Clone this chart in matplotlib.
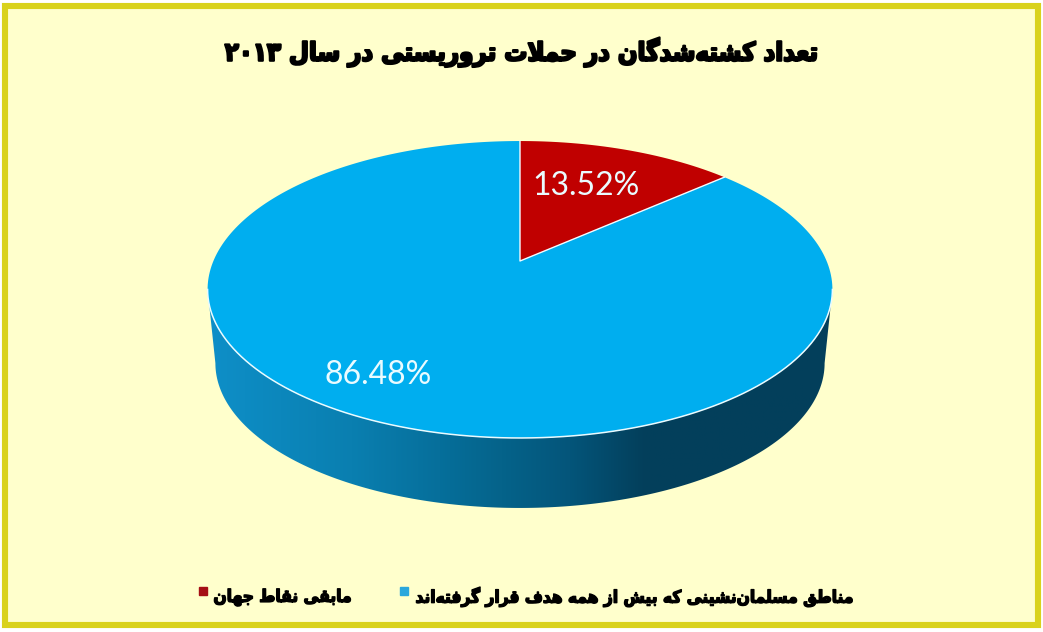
import numpy as np
import matplotlib
matplotlib.use("Agg")
import matplotlib.pyplot as plt
import matplotlib.patheffects as pe
from matplotlib.colors import LinearSegmentedColormap
from matplotlib.font_manager import FontProperties
from matplotlib.patches import PathPatch, Rectangle
from matplotlib.path import Path
from matplotlib.transforms import Transform

# ---- data -------------------------------------------------------------
title_text = "تعداد کشته\u200cشدگان در حملات تروریستی در سال ۲۰۱۳"
categories = ["مابقی نقاط جهان", "مناطق مسلمان\u200cنشینی که بیش از همه هدف قرار گرفته\u200cاند"]
shares = [13.52, 86.48]
colors = ["#C00000", "#00AEEF"]

# ---- Persian shaping (matplotlib does not shape or reorder) -----------
FORMS = {  # isolated, final, initial, medial
    "ا": (0xFE8D, 0xFE8E), "ب": (0xFE8F, 0xFE90, 0xFE91, 0xFE92), "ت": (0xFE95, 0xFE96, 0xFE97, 0xFE98),
    "ج": (0xFE9D, 0xFE9E, 0xFE9F, 0xFEA0), "ح": (0xFEA1, 0xFEA2, 0xFEA3, 0xFEA4), "د": (0xFEA9, 0xFEAA),
    "ر": (0xFEAD, 0xFEAE), "ز": (0xFEAF, 0xFEB0), "س": (0xFEB1, 0xFEB2, 0xFEB3, 0xFEB4),
    "ش": (0xFEB5, 0xFEB6, 0xFEB7, 0xFEB8), "ط": (0xFEC1, 0xFEC2, 0xFEC3, 0xFEC4),
    "ع": (0xFEC9, 0xFECA, 0xFECB, 0xFECC), "ف": (0xFED1, 0xFED2, 0xFED3, 0xFED4),
    "ق": (0xFED5, 0xFED6, 0xFED7, 0xFED8), "ک": (0xFB8E, 0xFB8F, 0xFB90, 0xFB91),
    "گ": (0xFB92, 0xFB93, 0xFB94, 0xFB95), "ل": (0xFEDD, 0xFEDE, 0xFEDF, 0xFEE0),
    "م": (0xFEE1, 0xFEE2, 0xFEE3, 0xFEE4), "ن": (0xFEE5, 0xFEE6, 0xFEE7, 0xFEE8),
    "ه": (0xFEE9, 0xFEEA, 0xFEEB, 0xFEEC), "و": (0xFEED, 0xFEEE), "ی": (0xFBFC, 0xFBFD, 0xFBFE, 0xFBFF),
}


def shape(text):
    out = []
    chars = list(text)
    i = 0
    while i < len(chars):
        c = chars[i]
        if c not in FORMS:
            if c != "\u200c":
                out.append(c)
            i += 1
            continue
        prev = chars[i - 1] if i else ""
        joins_prev = prev in FORMS and len(FORMS[prev]) == 4
        if c == "ل" and i + 1 < len(chars) and chars[i + 1] == "ا":
            out.append(chr(0xFEFC if joins_prev else 0xFEFB))
            i += 2
            continue
        nxt = chars[i + 1] if i + 1 < len(chars) else ""
        joins_next = len(FORMS[c]) == 4 and nxt in FORMS
        f = FORMS[c]
        if joins_prev and joins_next:
            out.append(chr(f[3]))
        elif joins_prev:
            out.append(chr(f[1]))
        elif joins_next:
            out.append(chr(f[2]))
        else:
            out.append(chr(f[0]))
        i += 1
    words = "".join(out).split(" ")
    return " ".join(w if w.isdigit() else w[::-1] for w in words[::-1])


# ---- perspective of the pie's top face ---------------------------------
APEX_X, APEX_Y = 520.0, 261.0
PERSP = 0.192


class Tilt(Transform):
    input_dims = output_dims = 2
    has_inverse = False
    is_separable = False

    def __init__(self, bx, ay, y0):
        super().__init__()
        self.bx, self.ay, self.y0 = bx, ay, y0

    def transform_non_affine(self, values):
        values = np.asarray(values, float)
        d = 1 + PERSP * values[:, 1]
        return np.column_stack((APEX_X + self.bx * values[:, 0] / d,
                                self.y0 - self.ay * values[:, 1] / d))

    def transform_path_non_affine(self, path):
        poly = Path(path.vertices * 2000, path.codes).to_polygons(closed_only=True)[0] / 2000
        return Path(self.transform_non_affine(poly), closed=True)


top = Tilt(306.6, 143.0, APEX_Y)
bottom = Tilt(306.6 * 0.975, 143.0 * 0.975, 335.4)

# ---- figure -------------------------------------------------------------
fig = plt.figure(figsize=(10.43, 6.32), dpi=100, facecolor="white")
ax = fig.add_axes([0, 0, 1, 1])
wedges, _ = ax.pie(shares, startangle=90, counterclock=False, colors=colors,
                   wedgeprops=dict(edgecolor="none", zorder=5))
ax.set_aspect("auto")
ax.set_xlim(0, 1043)
ax.set_ylim(632, 0)
ax.axis("off")
ax.add_patch(Rectangle((5, 5.5), 1033, 619.5, facecolor="#FFFFCC", edgecolor="#D9D21C",
                       linewidth=4.4, zorder=0))
for w in wedges:
    w.set_transform(top + ax.transData)

# side wall with a horizontal shade
t_front = np.linspace(np.pi + np.arcsin(PERSP), 2 * np.pi - np.arcsin(PERSP), 300)
ring = np.column_stack((np.cos(t_front), np.sin(t_front)))
upper = top.transform_non_affine(ring)
lower = bottom.transform_non_affine(ring)[::-1]
side = Path(np.vstack((upper, lower, upper[:1])), closed=True)
shade = LinearSegmentedColormap.from_list("side", [
    (0.00, "#0E8FC8"), (0.23, "#0A7FB0"), (0.37, "#066F9B"), (0.47, "#05638A"),
    (0.58, "#04557A"), (0.70, "#033F5B"), (1.00, "#03405C")])
img = ax.imshow(np.linspace(0, 1, 256)[None, :], cmap=shade, aspect="auto",
                extent=(208, 833, 510, 280), zorder=2)
ax.set_xlim(0, 1043)
ax.set_ylim(632, 0)
clip = PathPatch(side, transform=ax.transData, facecolor="none", edgecolor="none", zorder=2)
ax.add_patch(clip)
img.set_clip_path(clip)
# thin light rim where the top face meets the side wall
ax.plot(upper[:, 0], upper[:, 1], color="#EAFBFF", linewidth=1.1, zorder=5.5)

# thin light lines along the slice borders
boundary_angle = 2 * np.pi * shares[0] / sum(shares)
spokes = top.transform_non_affine(np.array([[0.0, 1.0], [0.0, 0.0],
                                            [np.sin(boundary_angle), np.cos(boundary_angle)]]))
ax.plot(spokes[:, 0], spokes[:, 1], color="#F4FBFF", linewidth=1.0, zorder=5.5)

# value labels
for (x, y), v in zip([(586, 186), (378, 375)], shares):
    ax.text(x, y, f"{v:.2f}%", color="#EAFBFF", fontsize=23, family="Lato",
            ha="center", va="center", zorder=6)

# Persian text font: condensed DejaVu bold
condensed = FontProperties(family="DejaVu Sans", weight="bold", stretch="condensed")


def persian(size):
    fp = condensed.copy()
    fp.set_size(size)
    return fp


ax.text(521, 52, shape(title_text), fontproperties=persian(18.4), ha="center", va="center",
        color="black", path_effects=[pe.withStroke(linewidth=1.6, foreground="black")], zorder=6)

for label, color, tx, mx in zip(categories, ["#A50F15", "#2AA7DC"], [282.5, 635], [203, 404]):
    ax.text(tx, 597, shape(label), fontproperties=persian(12.4), ha="center", va="center",
            color="black", path_effects=[pe.withStroke(linewidth=1.0, foreground="black")], zorder=6)
    ax.plot([mx], [591], marker="s", markersize=5.2, color=color, linestyle="none", zorder=6)

fig.savefig("out.png", dpi=100)
